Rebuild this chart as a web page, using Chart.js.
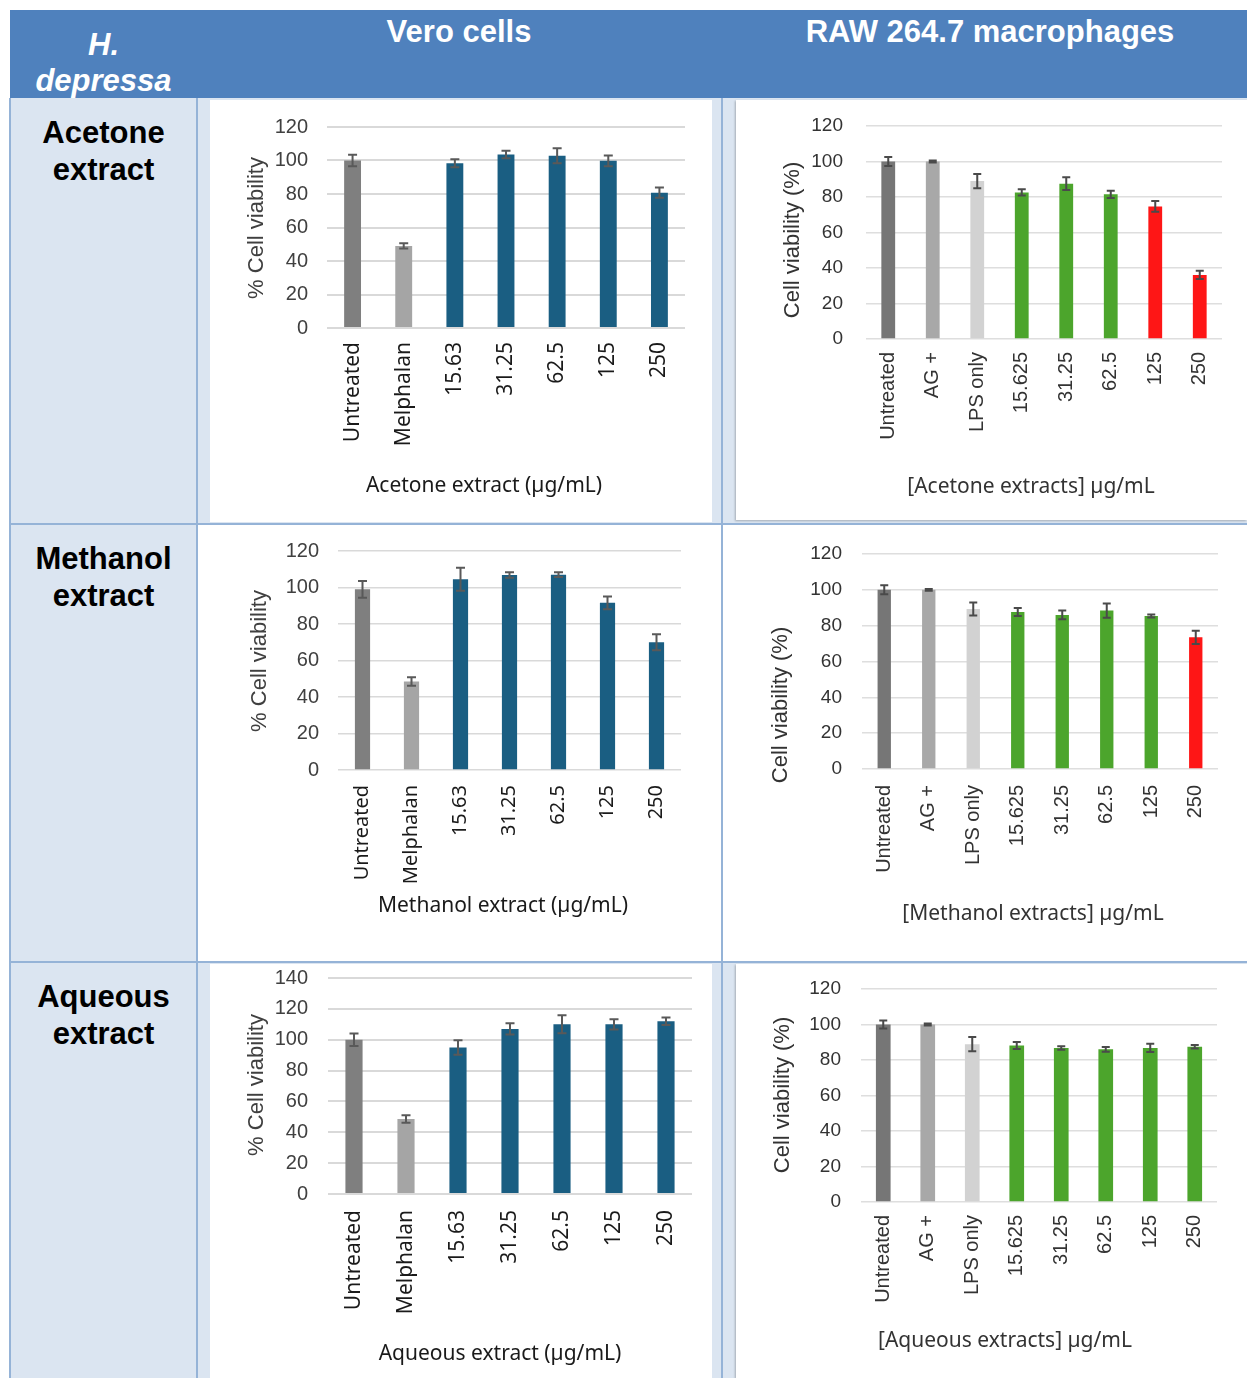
<!DOCTYPE html>
<html>
<head>
<meta charset="utf-8">
<script src="https://cdn.jsdelivr.net/npm/chart.js@4.4.1/dist/chart.umd.min.js"></script>
<style>
  html, body { margin: 0; padding: 0; background: #fff; }
  body { width: 1247px; height: 1378px; position: relative; overflow: hidden;
         font-family: "Liberation Sans", Arial, sans-serif; }
  .blk { position: absolute; box-sizing: border-box; }
  .hdr { background: #4f81bd; }
  .band { background: #dbe5f1; }
  .panel { background: #fff; }
  .framed { box-shadow: -1px 1px 2px rgba(0,0,0,0.25); }
  .vl { position: absolute; width: 2px; background: #95b3d7; }
  .hl { position: absolute; height: 2px; background: #95b3d7; }
  .ht { position: absolute; color: #fff; font-weight: bold; font-size: 31px; text-align: center; white-space: nowrap; }
  .rl { position: absolute; left: 10px; width: 187px; color: #000; font-weight: bold; font-size: 31px;
        line-height: 37px; text-align: center; }
  canvas { position: absolute; }
</style>
</head>
<body>
  <!-- table frame -->
  <div class="blk hdr" style="left:10px;top:10px;width:1237px;height:88px;"></div>
  <div class="blk band" style="left:10px;top:98px;width:187px;height:1280px;"></div>
  <div class="blk band" style="left:197px;top:98px;width:1050px;height:426px;"></div>
  <div class="blk band" style="left:197px;top:962px;width:1050px;height:416px;"></div>
  <div class="blk panel" style="left:210px;top:100px;width:502px;height:422px;"></div>
  <div class="blk panel framed" style="left:736px;top:100px;width:511px;height:420px;"></div>
  <div class="blk panel" style="left:210px;top:964px;width:502px;height:414px;"></div>
  <div class="blk panel framed" style="left:736px;top:964px;width:511px;height:414px;"></div>
  <div class="vl" style="left:9px;top:98px;height:1280px;"></div>
  <div class="vl" style="left:196px;top:98px;height:1280px;"></div>
  <div class="vl" style="left:721px;top:98px;height:1280px;"></div>
  <div class="hl" style="left:10px;top:523px;width:1237px;"></div>
  <div class="hl" style="left:10px;top:961px;width:1237px;"></div>

  <!-- header text -->
  <div class="ht" style="left:10px;width:187px;top:27px;font-style:italic;line-height:36px;">H.<br>depressa</div>
  <div class="ht" style="left:259px;width:400px;top:14px;">Vero cells</div>
  <div class="ht" style="left:790px;width:400px;top:14px;">RAW 264.7 macrophages</div>

  <!-- row labels -->
  <div class="rl" style="top:114px;">Acetone<br>extract</div>
  <div class="rl" style="top:540px;">Methanol<br>extract</div>
  <div class="rl" style="top:978px;">Aqueous<br>extract</div>

<script>
// Treatment categories for each cell line
const veroLabels = ['Untreated', 'Melphalan', '15.63', '31.25', '62.5', '125', '250'];
const rawLabels = ['Untreated', 'AG +', 'LPS only', '15.625', '31.25', '62.5', '125', '250'];

// Mean % viability and its error (±) per treatment
const veroAcetone      = [100, 49, 98.4, 103.6, 102.8, 99.8, 80.8];
const veroAcetoneErr   = [3.5, 1.6, 2.4, 2.2, 4.5, 3.2, 3.1];
const rawAcetone       = [100, 100, 89, 82.6, 87.5, 81.5, 74.7, 36.1];
const rawAcetoneErr    = [2.5, 0.5, 4, 1.7, 3.6, 2, 3, 2.3];
const veroMethanol     = [99, 48.5, 104.5, 106.9, 107, 91.6, 70];
const veroMethanolErr  = [4.6, 2.3, 6.3, 1.5, 1.3, 3.5, 4.4];
const rawMethanol      = [100, 100, 89.3, 87.6, 86, 88.4, 85.4, 73.5];
const rawMethanolErr   = [2.5, 0.5, 3.6, 2.2, 2.4, 4, 0.8, 3.7];
const veroAqueous      = [100, 48.6, 95, 107, 110, 110, 112];
const veroAqueousErr   = [4, 2.4, 4.7, 3.7, 5.8, 3.3, 2.4];
const rawAqueous       = [100, 100, 88.9, 88.2, 86.8, 86, 86.8, 87.5];
const rawAqueousErr    = [2.3, 0.5, 4, 2, 1, 1.3, 2.3, 1];

// Y-axis tick values
const yTicks120 = [0, 20, 40, 60, 80, 100, 120];
const yTicks140 = [0, 20, 40, 60, 80, 100, 120, 140];

// Bar colours
const VERO_DARK = '#7f7f7f', VERO_LIGHT = '#a5a5a5', VERO_BLUE = '#1a5e82';
const RAW_G1 = '#767676', RAW_G2 = '#a8a8a8', RAW_G3 = '#d2d2d2', GREEN = '#4ca52c', RED = '#fe1616';
const veroPalette = [VERO_DARK, VERO_LIGHT, VERO_BLUE, VERO_BLUE, VERO_BLUE, VERO_BLUE, VERO_BLUE];
const rawPaletteA = [RAW_G1, RAW_G2, RAW_G3, GREEN, GREEN, GREEN, RED, RED];
const rawPaletteM = [RAW_G1, RAW_G2, RAW_G3, GREEN, GREEN, GREEN, GREEN, RED];
const rawPaletteQ = [RAW_G1, RAW_G2, RAW_G3, GREEN, GREEN, GREEN, GREEN, GREEN];

// Draws ± error whiskers on top of each bar
const errorBars = {
  id: 'errorBars',
  afterDatasetsDraw(chart, args, opts) {
    const ds = chart.data.datasets[0];
    const meta = chart.getDatasetMeta(0);
    const ys = chart.scales.y;
    const ctx = chart.ctx;
    ctx.save();
    ctx.strokeStyle = opts.color;
    ctx.lineWidth = opts.width;
    meta.data.forEach((bar, i) => {
      const v = ds.data[i], e = ds.errors[i];
      const top = ys.getPixelForValue(v + e);
      const bot = ys.getPixelForValue(v - e);
      const c = opts.cap / 2;
      ctx.beginPath();
      ctx.moveTo(bar.x, top); ctx.lineTo(bar.x, bot);
      ctx.moveTo(bar.x - c, top); ctx.lineTo(bar.x + c, top);
      ctx.moveTo(bar.x - c, bot); ctx.lineTo(bar.x + c, bot);
      ctx.stroke();
    });
    ctx.restore();
  }
};

// Axis captions placed at given canvas positions
const captions = {
  id: 'captions',
  afterDraw(chart, args, o) {
    const ctx = chart.ctx;
    ctx.save();
    ctx.textAlign = 'center';
    ctx.textBaseline = 'middle';
    ctx.fillStyle = o.yColor;
    ctx.font = o.yFont;
    ctx.translate(o.yX, o.yY);
    ctx.rotate(-Math.PI / 2);
    ctx.fillText(o.yText, 0, 0);
    ctx.restore();
    ctx.save();
    ctx.textAlign = 'center';
    ctx.textBaseline = 'middle';
    ctx.fillStyle = o.xColor;
    ctx.font = o.xFont;
    ctx.fillText(o.xText, o.xX, o.xY);
    ctx.restore();
  }
};

function makeChart(s) {
  const [bx, by, bw, bh] = s.box;
  const [pl, pt, pr, pb] = s.plot;
  const cv = document.createElement('canvas');
  cv.width = bw; cv.height = bh;
  cv.style.left = bx + 'px'; cv.style.top = by + 'px';
  document.body.appendChild(cv);
  new Chart(cv, {
    type: 'bar',
    data: {
      labels: s.labels,
      datasets: [{
        data: s.values,
        errors: s.errors,
        backgroundColor: s.colors,
        borderWidth: 0,
        barPercentage: s.barPct,
        categoryPercentage: 1
      }]
    },
    options: {
      responsive: false,
      animation: false,
      devicePixelRatio: 1,
      layout: { padding: { top: pt - by, right: bx + bw - pr, left: 0, bottom: 0 } },
      plugins: {
        legend: { display: false },
        tooltip: { enabled: false },
        errorBars: { color: s.errColor, width: 2, cap: s.cap },
        captions: {
          yText: s.yTitle, yX: s.yAt[0] - bx, yY: s.yAt[1] - by, yFont: s.yTitleFont, yColor: s.titleColor,
          xText: s.xTitle, xX: s.xAt[0] - bx, xY: s.xAt[1] - by, xFont: s.xTitleFont, xColor: s.xTitleColor
        }
      },
      scales: {
        x: {
          grid: { display: false, drawTicks: false },
          border: { display: false },
          ticks: {
            autoSkip: false, minRotation: 90, maxRotation: 90, padding: s.xPad,
            color: s.xTickColor, font: s.xTickFont
          },
          afterFit: sc => { sc.height = by + bh - pb; sc.paddingLeft = 0; sc.paddingRight = 0; }
        },
        y: {
          min: 0, max: s.yMax,
          grid: { color: s.gridColor, lineWidth: s.gridWidth, drawTicks: false },
          border: { display: false },
          ticks: { padding: s.yPad, color: s.yTickColor, font: s.yTickFont },
          afterBuildTicks: sc => { sc.ticks = s.yTicks.map(v => ({ value: v })); },
          afterFit: sc => { sc.width = pl - bx; sc.paddingTop = 0; sc.paddingBottom = 0; }
        }
      }
    },
    plugins: [errorBars, captions]
  });
}

const veroStyle = {
  errColor: '#595959', cap: 9, gridColor: '#d9d9d9', gridWidth: 2,
  yTickColor: '#404040', yTickFont: { family: 'Liberation Sans', size: 20 },
  xTickColor: '#1a1a1a', xTickFont: { family: 'Noto Sans', size: 21 },
  yTitleFont: '22px "Liberation Sans"', titleColor: '#404040',
  xTitleFont: '21px "Noto Sans"', xTitleColor: '#1a1a1a'
};
const rawStyle = {
  errColor: '#4a4a4a', cap: 8, gridColor: '#dedede', gridWidth: 1.5,
  yTickColor: '#333333', yTickFont: { family: 'Liberation Sans', size: 19 },
  xTickColor: '#333333', xTickFont: { family: 'Liberation Sans', size: 20 },
  yTitleFont: '22px "Liberation Sans"', titleColor: '#333333',
  xTitleFont: '21px "Noto Sans"', xTitleColor: '#333333'
};

makeChart(Object.assign({}, veroStyle, {
  box: [210, 100, 502, 422], plot: [327, 127, 685, 328],
  labels: veroLabels, values: veroAcetone, errors: veroAcetoneErr, colors: veroPalette,
  yMax: 120, yTicks: yTicks120, barPct: 0.33, xPad: 14, yPad: 19,
  yTitle: '% Cell viability', yAt: [257, 228],
  xTitle: 'Acetone extract (µg/mL)', xAt: [484, 486]
}));

makeChart(Object.assign({}, rawStyle, {
  box: [737, 100, 510, 418], plot: [866, 126, 1222, 339],
  labels: rawLabels, values: rawAcetone, errors: rawAcetoneErr, colors: rawPaletteA,
  yMax: 120, yTicks: yTicks120, barPct: 0.31, xPad: 13, yPad: 23,
  yTitle: 'Cell viability (%)', yAt: [793, 240],
  xTitle: '[Acetone extracts] µg/mL', xAt: [1031, 487]
}));

makeChart(Object.assign({}, veroStyle, {
  gridWidth: 1.5, xTickFont: { family: 'Noto Sans', size: 20 },
  box: [200, 526, 520, 434], plot: [338, 551, 681, 770],
  labels: veroLabels, values: veroMethanol, errors: veroMethanolErr, colors: veroPalette,
  yMax: 120, yTicks: yTicks120, barPct: 0.31, xPad: 15, yPad: 19,
  yTitle: '% Cell viability', yAt: [260, 661],
  xTitle: 'Methanol extract (µg/mL)', xAt: [503, 906]
}));

makeChart(Object.assign({}, rawStyle, {
  box: [724, 526, 523, 434], plot: [862, 554, 1218, 769],
  labels: rawLabels, values: rawMethanol, errors: rawMethanolErr, colors: rawPaletteM,
  yMax: 120, yTicks: yTicks120, barPct: 0.3, xPad: 16, yPad: 20,
  yTitle: 'Cell viability (%)', yAt: [781, 705],
  xTitle: '[Methanol extracts] µg/mL', xAt: [1033, 914]
}));

makeChart(Object.assign({}, veroStyle, {
  box: [210, 964, 502, 414], plot: [328, 978, 692, 1194],
  labels: veroLabels, values: veroAqueous, errors: veroAqueousErr, colors: veroPalette,
  yMax: 140, yTicks: yTicks140, barPct: 0.33, xPad: 16, yPad: 20,
  yTitle: '% Cell viability', yAt: [257, 1085],
  xTitle: 'Aqueous extract (µg/mL)', xAt: [500, 1354]
}));

makeChart(Object.assign({}, rawStyle, {
  box: [737, 964, 510, 414], plot: [861, 989, 1217, 1202],
  labels: rawLabels, values: rawAqueous, errors: rawAqueousErr, colors: rawPaletteQ,
  yMax: 120, yTicks: yTicks120, barPct: 0.33, xPad: 13, yPad: 20,
  yTitle: 'Cell viability (%)', yAt: [783, 1095],
  xTitle: '[Aqueous extracts] µg/mL', xAt: [1005, 1341]
}));
</script>
</body>
</html>
